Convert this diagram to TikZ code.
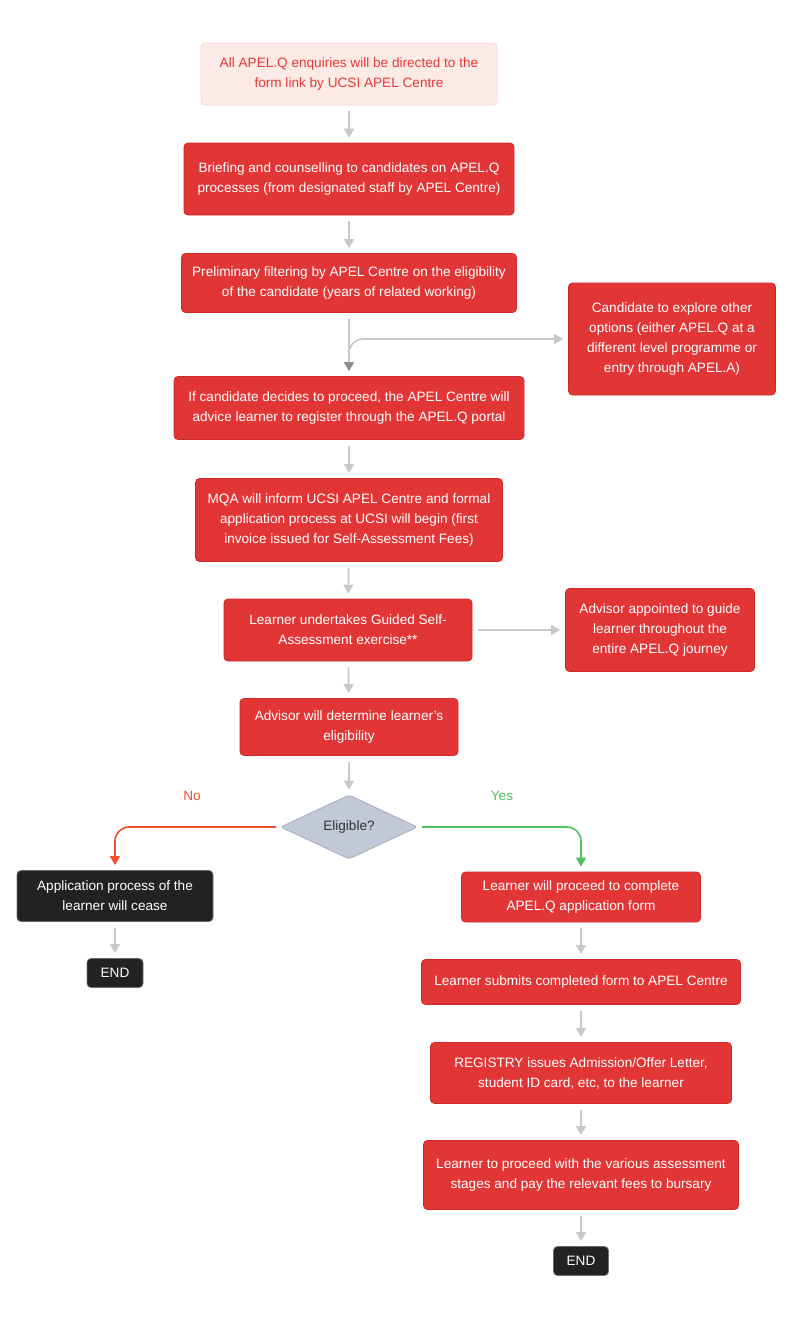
\documentclass[tikz,border=0pt]{standalone}
\usepackage{fontspec}
\setmainfont{Liberation Sans}
\usepackage{tikz}
\usetikzlibrary{
    arrows.meta,
    shapes.geometric,
    positioning
}
\definecolor{boxred}{RGB}{226,54,54}
\definecolor{boxline}{RGB}{205,40,40}
\definecolor{pinkfill}{RGB}{251,234,230}
\definecolor{pinkline}{RGB}{246,216,210}
\definecolor{pinktext}{RGB}{229,57,53}
\definecolor{stopfill}{RGB}{34,34,34}
\definecolor{stopline}{RGB}{110,110,110}
\definecolor{askfill}{RGB}{195,200,214}
\definecolor{askline}{RGB}{165,172,190}
\definecolor{linkgray}{RGB}{200,200,200}
\definecolor{linkdark}{RGB}{140,140,140}
\definecolor{nored}{RGB}{240,80,42}
\definecolor{yesgreen}{RGB}{76,195,95}

\begin{document}
\begin{tikzpicture}[x=1pt, y=-1pt,
    font=\fontsize{13.6}{20}\selectfont,
    process/.style={draw=boxline, fill=boxred, text=white, rounded corners=4pt,
        align=center, inner sep=0pt, line width=0.8pt},
    intro/.style={process, draw=pinkline, fill=pinkfill, text=pinktext},
    halt/.style={process, draw=stopline, fill=stopfill},
    ask/.style={diamond, draw=askline, fill=askfill, text=black!80, inner sep=0pt,
        rounded corners=3pt, line width=0.8pt},
    link/.style={draw=linkgray, line width=1.6pt, -{Triangle[width=10pt,length=9pt]},
        shorten <=6pt, shorten >=5pt},
    ]
    \useasboundingbox (0,0) rectangle (800,1318);

    \node[intro, minimum width=296pt, minimum height=62pt] (enquiry) at (349, 74)
        {All APEL.Q enquiries will be directed to the\\form link by UCSI APEL Centre};
    \node[process, minimum width=330pt, minimum height=72pt] (briefing) at (349, 179)
        {Briefing and counselling to candidates on APEL.Q\\processes (from designated staff by APEL Centre)};
    \node[process, minimum width=335pt, minimum height=59pt] (filter) at (349, 283)
        {Preliminary filtering by APEL Centre on the eligibility\\of the candidate (years of related working)};
    \node[process, minimum width=207pt, minimum height=112pt] (explore) at (672, 339)
        {Candidate to explore other\\options (either APEL.Q at a\\different level programme or\\entry through APEL.A)};
    \node[process, minimum width=350pt, minimum height=63pt] (proceed) at (349, 408)
        {If candidate decides to proceed, the APEL Centre will\\advice learner to register through the APEL.Q portal};
    \node[process, minimum width=307pt, minimum height=83pt] (mqa) at (349, 520)
        {MQA will inform UCSI APEL Centre and formal\\application process at UCSI will begin (first\\invoice issued for Self-Assessment Fees)};
    \node[process, minimum width=248pt, minimum height=62pt] (selfassess) at (348, 630)
        {Learner undertakes Guided Self-\\Assessment exercise**};
    \node[process, minimum width=189pt, minimum height=83pt] (advisor) at (660, 630)
        {Advisor appointed to guide\\learner throughout the\\entire APEL.Q journey};
    \node[process, minimum width=218pt, minimum height=57pt] (determine) at (349, 727)
        {Advisor will determine learner’s\\eligibility};
    \node[ask, minimum width=137pt, minimum height=59pt] (eligible) at (349, 827) {Eligible?};

    \node[halt, minimum width=196pt, minimum height=51pt] (cease) at (115, 896)
        {Application process of the\\learner will cease};
    \node[halt, minimum width=56pt, minimum height=29pt] (endno) at (115, 973) {END};

    \node[process, minimum width=239pt, minimum height=50pt] (complete) at (581, 897)
        {Learner will proceed to complete\\APEL.Q application form};
    \node[process, minimum width=319pt, minimum height=45pt] (submit) at (581, 982)
        {Learner submits completed form to APEL Centre};
    \node[process, minimum width=301pt, minimum height=61pt] (registry) at (581, 1073)
        {REGISTRY issues Admission/Offer Letter,\\student ID card, etc, to the learner};
    \node[process, minimum width=315pt, minimum height=69pt] (assess) at (581, 1175)
        {Learner to proceed with the various assessment\\stages and pay the relevant fees to bursary};
    \node[halt, minimum width=55pt, minimum height=29pt] (endyes) at (581, 1261) {END};

    \node[text=nored] (nolabel) at (192, 796) {No};
    \node[text=yesgreen] (yeslabel) at (502, 796) {Yes};

    \draw
    (enquiry) edge[link] (briefing)
    (briefing) edge[link] (filter)
    (filter) edge[link, -{Triangle[width=10pt,length=9pt,color=linkdark]}] (proceed)
    (proceed) edge[link] (mqa)
    (mqa) edge[link] (selfassess)
    (selfassess) edge[link] (advisor)
    (selfassess) edge[link] (determine)
    (determine) edge[link] (eligible)
    (cease) edge[link] (endno)
    (complete) edge[link] (submit)
    (submit) edge[link] (registry)
    (registry) edge[link] (assess)
    (assess) edge[link] (endyes);

    % side branch to other options
    \coordinate (split) at (349, 362);
    \draw[link, rounded corners=14pt, shorten <=0pt] (split) |- (explore.west);

    % decision branches
    \draw[link, draw=nored, rounded corners=14pt, shorten <=4pt] (eligible.west) -| (cease.north);
    \draw[link, draw=yesgreen, rounded corners=14pt, shorten <=4pt] (eligible.east) -| (complete.north);
\end{tikzpicture}
\end{document}
